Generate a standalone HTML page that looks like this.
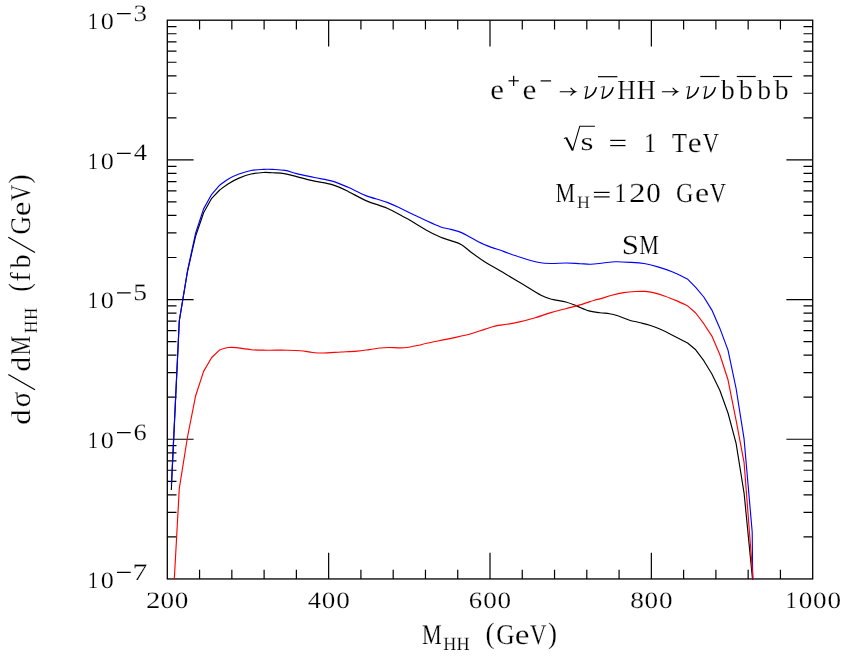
<!DOCTYPE html>
<html><head><meta charset="utf-8"><title>chart</title>
<style>html,body{margin:0;padding:0;background:#fff;font-family:"Liberation Serif",serif}body{width:845px;height:658px;position:relative;overflow:hidden}</style></head>
<body>
<svg width="845" height="658" viewBox="0 0 845 658" style="position:absolute;left:0;top:0;will-change:transform">
<rect width="845" height="658" fill="#fff"/>
<clipPath id="c"><rect x="167.3" y="20.2" width="645.4000000000001" height="559.4"/></clipPath>
<rect x="167.3" y="20.2" width="645.4000000000001" height="558.75" fill="none" stroke="#000" stroke-width="1.3"/>
<path d="M199.57 20.20L199.57 29.40M199.57 578.95L199.57 569.75M231.84 20.20L231.84 29.40M231.84 578.95L231.84 569.75M264.11 20.20L264.11 29.40M264.11 578.95L264.11 569.75M296.38 20.20L296.38 29.40M296.38 578.95L296.38 569.75M328.65 20.20L328.65 46.50M328.65 578.95L328.65 552.65M360.92 20.20L360.92 29.40M360.92 578.95L360.92 569.75M393.19 20.20L393.19 29.40M393.19 578.95L393.19 569.75M425.46 20.20L425.46 29.40M425.46 578.95L425.46 569.75M457.73 20.20L457.73 29.40M457.73 578.95L457.73 569.75M490.00 20.20L490.00 46.50M490.00 578.95L490.00 552.65M522.27 20.20L522.27 29.40M522.27 578.95L522.27 569.75M554.54 20.20L554.54 29.40M554.54 578.95L554.54 569.75M586.81 20.20L586.81 29.40M586.81 578.95L586.81 569.75M619.08 20.20L619.08 29.40M619.08 578.95L619.08 569.75M651.35 20.20L651.35 46.50M651.35 578.95L651.35 552.65M683.62 20.20L683.62 29.40M683.62 578.95L683.62 569.75M715.89 20.20L715.89 29.40M715.89 578.95L715.89 569.75M748.16 20.20L748.16 29.40M748.16 578.95L748.16 569.75M780.43 20.20L780.43 29.40M780.43 578.95L780.43 569.75M167.30 117.84L176.50 117.84M812.70 117.84L803.50 117.84M167.30 93.24L176.50 93.24M812.70 93.24L803.50 93.24M167.30 75.79L176.50 75.79M812.70 75.79L803.50 75.79M167.30 62.25L176.50 62.25M812.70 62.25L803.50 62.25M167.30 51.19L176.50 51.19M812.70 51.19L803.50 51.19M167.30 41.84L176.50 41.84M812.70 41.84L803.50 41.84M167.30 33.74L176.50 33.74M812.70 33.74L803.50 33.74M167.30 26.59L176.50 26.59M812.70 26.59L803.50 26.59M167.30 159.89L193.60 159.89M812.70 159.89L786.40 159.89M167.30 257.52L176.50 257.52M812.70 257.52L803.50 257.52M167.30 232.93L176.50 232.93M812.70 232.93L803.50 232.93M167.30 215.47L176.50 215.47M812.70 215.47L803.50 215.47M167.30 201.94L176.50 201.94M812.70 201.94L803.50 201.94M167.30 190.88L176.50 190.88M812.70 190.88L803.50 190.88M167.30 181.53L176.50 181.53M812.70 181.53L803.50 181.53M167.30 173.42L176.50 173.42M812.70 173.42L803.50 173.42M167.30 166.28L176.50 166.28M812.70 166.28L803.50 166.28M167.30 299.57L193.60 299.57M812.70 299.57L786.40 299.57M167.30 397.21L176.50 397.21M812.70 397.21L803.50 397.21M167.30 372.61L176.50 372.61M812.70 372.61L803.50 372.61M167.30 355.16L176.50 355.16M812.70 355.16L803.50 355.16M167.30 341.63L176.50 341.63M812.70 341.63L803.50 341.63M167.30 330.56L176.50 330.56M812.70 330.56L803.50 330.56M167.30 321.21L176.50 321.21M812.70 321.21L803.50 321.21M167.30 313.11L176.50 313.11M812.70 313.11L803.50 313.11M167.30 305.97L176.50 305.97M812.70 305.97L803.50 305.97M167.30 439.26L193.60 439.26M812.70 439.26L786.40 439.26M167.30 536.90L176.50 536.90M812.70 536.90L803.50 536.90M167.30 512.30L176.50 512.30M812.70 512.30L803.50 512.30M167.30 494.85L176.50 494.85M812.70 494.85L803.50 494.85M167.30 481.31L176.50 481.31M812.70 481.31L803.50 481.31M167.30 470.25L176.50 470.25M812.70 470.25L803.50 470.25M167.30 460.90L176.50 460.90M812.70 460.90L803.50 460.90M167.30 452.80L176.50 452.80M812.70 452.80L803.50 452.80M167.30 445.65L176.50 445.65M812.70 445.65L803.50 445.65M117.00 13.60L130.70 13.60M117.00 153.29L130.70 153.29M117.00 292.97L130.70 292.97M117.00 432.66L130.70 432.66M117.00 572.35L130.70 572.35" fill="none" stroke="#000" stroke-width="1.2"/>
<g fill="none" stroke-width="1.15" stroke-linejoin="round" clip-path="url(#c)">
<path d="M171.3 490.0L179.3 321.0L187.5 271.5L195.5 236.5L203.6 212.8L211.7 198.3L219.7 190.0C221.2 188.9 225.2 185.7 228.4 183.7C231.6 181.7 235.2 179.7 239.0 178.1C242.8 176.5 247.0 174.9 251.1 174.0C255.2 173.1 259.8 172.7 263.3 172.5C266.9 172.3 268.9 172.6 272.4 172.8C275.9 173.0 280.2 173.0 284.2 173.6C288.2 174.2 291.6 175.3 296.6 176.6C301.6 177.8 308.5 179.8 314.4 181.1C320.3 182.4 326.5 182.9 332.1 184.6C337.7 186.3 342.5 188.7 348.1 191.4C353.7 194.1 359.4 197.8 365.9 200.6C372.4 203.4 380.7 205.4 387.2 208.2C393.7 211.0 401.1 215.5 404.9 217.5C408.7 219.5 406.5 218.1 410.0 220.2C413.5 222.3 421.0 227.1 426.0 229.9C431.0 232.7 436.1 235.2 440.2 237.0C444.3 238.8 447.2 239.3 450.8 240.6C454.4 241.9 457.9 242.6 461.5 244.7C465.1 246.8 468.0 250.0 472.1 253.0C476.2 256.0 481.8 260.0 486.2 262.8C490.6 265.6 495.6 268.1 498.8 270.0C502.0 271.9 501.4 271.6 505.5 274.0C509.6 276.4 517.4 281.1 523.3 284.6C529.2 288.2 536.3 292.9 541.0 295.3C545.7 297.7 547.6 298.1 551.7 299.2C555.9 300.3 561.8 300.9 565.9 302.0C570.0 303.1 572.7 304.4 576.5 305.9C580.3 307.4 585.0 309.8 588.9 310.9C592.8 312.0 596.6 312.2 600.0 312.7C603.4 313.2 606.5 313.2 609.5 313.7C612.5 314.2 614.4 314.7 617.8 315.8C621.1 316.9 626.0 319.1 629.6 320.2C633.2 321.3 635.8 321.6 639.1 322.5C642.5 323.4 646.4 324.2 649.7 325.3C653.1 326.4 655.7 327.3 659.2 328.8C662.8 330.3 666.3 332.0 671.0 334.4C675.7 336.8 684.9 341.6 687.6 343.0L695.7 349.8L703.8 360.7L711.9 374.0L719.9 390.5L728.0 413.0L736.1 443.3L744.1 493.3L752.7 581.0" stroke="#000"/>
<path d="M171.4 484.6L179.3 320.5L187.5 270.8L195.5 233.5L203.6 208.9L211.7 194.3L219.7 185.2C221.2 184.1 225.2 180.8 228.4 178.9C231.6 177.0 235.2 175.4 239.0 174.0C242.8 172.6 247.0 171.3 251.1 170.5C255.2 169.7 259.8 169.6 263.3 169.4C266.9 169.2 268.8 169.2 272.4 169.4C276.0 169.6 281.1 169.7 285.1 170.4C289.1 171.1 291.7 172.4 296.6 173.6C301.5 174.8 308.5 176.2 314.4 177.5C320.3 178.8 326.5 179.5 332.1 181.1C337.7 182.7 342.5 184.9 348.1 187.3C353.7 189.7 359.4 193.1 365.9 195.6C372.4 198.1 380.7 199.9 387.2 202.4C393.7 204.9 401.1 208.6 404.9 210.4C408.7 212.2 406.5 211.4 410.0 213.1C413.5 214.8 421.0 218.2 426.0 220.5C431.0 222.8 436.1 225.2 440.2 226.7C444.3 228.2 447.2 228.4 450.8 229.4C454.4 230.4 457.9 231.1 461.5 232.6C465.1 234.1 468.0 236.2 472.1 238.3C476.2 240.4 481.0 243.2 486.3 245.4C491.6 247.6 498.2 249.5 504.1 251.6C510.0 253.7 516.2 256.0 521.8 257.8C527.4 259.6 532.9 261.2 537.8 262.2C542.7 263.1 546.3 263.4 551.0 263.5C555.7 263.6 561.0 263.0 565.9 263.0C570.8 263.0 576.0 263.5 580.1 263.7C584.2 263.9 586.9 264.3 590.7 264.2C594.5 264.1 599.0 263.4 603.1 263.0C607.2 262.6 610.9 261.9 615.6 261.8C620.3 261.7 626.3 262.1 631.3 262.4C636.3 262.7 641.1 263.1 645.5 263.8C649.9 264.6 653.5 265.6 657.9 266.9C662.3 268.2 667.1 269.8 672.1 271.8C677.1 273.8 685.1 277.9 687.6 279.1L695.7 287.3L703.8 297.0L711.9 310.1L719.9 328.4L728.0 350.1L736.1 388.5L744.1 439.2L752.2 532.0L752.7 581.0" stroke="#00f"/>
<path d="M174.2 581.0L179.3 488.4L187.5 437.0L195.5 396.3L203.6 371.4L211.7 357.5L219.7 349.9C221.2 349.5 225.7 347.9 228.4 347.5C231.1 347.1 232.2 347.2 236.0 347.6C239.8 348.0 246.0 349.3 251.1 349.7C256.1 350.1 260.5 350.1 266.3 350.2C272.1 350.3 280.4 350.1 286.0 350.2C291.6 350.3 295.8 350.3 300.2 350.7C304.6 351.1 308.8 352.1 312.6 352.5C316.5 352.9 318.6 353.1 323.3 353.0C328.0 352.9 335.4 352.3 341.0 352.0C346.6 351.7 352.3 351.5 357.0 351.1C361.7 350.7 365.5 350.1 369.4 349.6C373.2 349.1 376.9 348.4 380.1 348.0C383.4 347.6 385.6 347.5 388.9 347.5C392.1 347.5 396.3 347.9 399.6 347.9C402.9 347.8 405.3 347.7 408.7 347.2C412.1 346.7 417.0 345.6 420.0 345.0C423.0 344.4 421.1 344.5 426.6 343.3C432.2 342.1 445.9 339.5 453.3 337.9C460.7 336.3 465.7 335.3 471.0 333.8C476.3 332.3 481.1 330.4 485.2 329.1C489.3 327.8 492.3 326.7 495.9 325.9C499.4 325.1 502.8 324.9 506.5 324.3C510.2 323.7 513.6 323.2 518.4 322.1C523.2 321.0 529.8 319.3 535.3 317.7C540.8 316.1 544.8 314.4 551.7 312.4C558.6 310.4 569.4 307.9 576.5 305.9C583.6 303.9 590.4 301.4 594.3 300.2C598.2 299.0 597.1 299.7 600.0 298.9C602.9 298.1 607.8 296.4 611.8 295.3C615.8 294.2 619.8 293.2 623.7 292.6C627.7 292.0 632.0 291.7 635.5 291.5C639.0 291.3 642.0 291.2 645.0 291.4C648.0 291.6 649.9 291.8 653.3 292.6C656.6 293.4 661.2 294.8 665.1 296.2C669.0 297.6 673.1 299.3 676.9 300.9C680.7 302.5 685.9 305.1 687.6 305.9L695.7 313.0L703.8 323.7L711.9 336.1L719.9 354.8L728.0 379.8L736.1 420.3L744.1 462.7L753.2 581.0" stroke="#f00"/>
</g>
<g font-family="'Liberation Serif', serif" fill="#000" stroke="#fff" stroke-width="0.2" text-rendering="geometricPrecision">
<text transform="translate(145.94,608.30) scale(1.221,1.000)" font-size="23.5">2</text>
<text transform="translate(160.52,608.30) scale(1.155,1.000)" font-size="23.5">0</text>
<text transform="translate(174.87,608.30) scale(1.155,1.000)" font-size="23.5">0</text>
<text transform="translate(307.63,608.30) scale(1.126,1.000)" font-size="23.5">4</text>
<text transform="translate(321.87,608.30) scale(1.155,1.000)" font-size="23.5">0</text>
<text transform="translate(336.22,608.30) scale(1.155,1.000)" font-size="23.5">0</text>
<text transform="translate(468.74,608.30) scale(1.145,1.000)" font-size="23.5">6</text>
<text transform="translate(483.22,608.30) scale(1.155,1.000)" font-size="23.5">0</text>
<text transform="translate(497.57,608.30) scale(1.155,1.000)" font-size="23.5">0</text>
<text transform="translate(630.16,608.30) scale(1.165,1.000)" font-size="23.5">8</text>
<text transform="translate(644.57,608.30) scale(1.155,1.000)" font-size="23.5">0</text>
<text transform="translate(658.92,608.30) scale(1.155,1.000)" font-size="23.5">0</text>
<text transform="translate(785.78,608.30) scale(0.919,1.000)" font-size="23.5">1</text>
<text transform="translate(798.74,608.30) scale(1.155,1.000)" font-size="23.5">0</text>
<text transform="translate(813.09,608.30) scale(1.155,1.000)" font-size="23.5">0</text>
<text transform="translate(827.44,608.30) scale(1.155,1.000)" font-size="23.5">0</text>
<text transform="translate(87.63,29.10) scale(0.882,1.000)" font-size="23.5">1</text>
<text transform="translate(100.75,29.10) scale(1.114,1.000)" font-size="23.5">0</text>
<text transform="translate(133.45,20.80) scale(1.154,1.000)" font-size="23.5">3</text>
<text transform="translate(87.63,168.79) scale(0.882,1.000)" font-size="23.5">1</text>
<text transform="translate(100.75,168.79) scale(1.114,1.000)" font-size="23.5">0</text>
<text transform="translate(133.68,160.49) scale(1.126,1.000)" font-size="23.5">4</text>
<text transform="translate(87.63,308.47) scale(0.882,1.000)" font-size="23.5">1</text>
<text transform="translate(100.75,308.47) scale(1.114,1.000)" font-size="23.5">0</text>
<text transform="translate(133.20,300.17) scale(1.173,1.000)" font-size="23.5">5</text>
<text transform="translate(87.63,448.16) scale(0.882,1.000)" font-size="23.5">1</text>
<text transform="translate(100.75,448.16) scale(1.114,1.000)" font-size="23.5">0</text>
<text transform="translate(133.56,439.86) scale(1.125,1.000)" font-size="23.5">6</text>
<text transform="translate(87.63,587.85) scale(0.882,1.000)" font-size="23.5">1</text>
<text transform="translate(100.75,587.85) scale(1.114,1.000)" font-size="23.5">0</text>
<text transform="translate(132.40,579.55) scale(1.260,1.000)" font-size="23.5">7</text>
<text transform="translate(490.29,99.00) scale(1.125,1.040)" font-size="27.5">e</text>
<text transform="translate(522.43,99.00) scale(1.140,1.040)" font-size="27.5">e</text>
<text transform="translate(617.31,99.00) scale(0.931,1.000)" font-size="27.5">H</text>
<text transform="translate(636.79,99.00) scale(0.958,1.000)" font-size="27.5">H</text>
<text transform="translate(720.95,99.00) scale(1.000,1.000)" font-size="27.5">b</text>
<text transform="translate(738.65,99.00) scale(1.023,1.000)" font-size="27.5">b</text>
<text transform="translate(757.35,99.00) scale(1.008,1.000)" font-size="27.5">b</text>
<text transform="translate(774.85,99.00) scale(1.008,1.000)" font-size="27.5">b</text>
<text transform="translate(580.48,150.20) scale(1.212,0.920)" font-size="27.5">s</text>
<text transform="translate(643.93,151.70) scale(0.878,1.000)" font-size="27.5">1</text>
<text transform="translate(672.11,151.70) scale(0.890,1.000)" font-size="27.5">T</text>
<text transform="translate(687.83,151.70) scale(1.140,1.040)" font-size="27.5">e</text>
<text transform="translate(702.80,151.70) scale(0.816,1.000)" font-size="27.5">V</text>
<text transform="translate(555.52,202.30) scale(0.801,1.000)" font-size="27.5">M</text>
<text transform="translate(576.93,208.40) scale(1.024,1.000)" font-size="17.5">H</text>
<text transform="translate(614.55,202.30) scale(0.868,1.000)" font-size="27.5">1</text>
<text transform="translate(629.09,202.30) scale(1.206,1.000)" font-size="27.5">2</text>
<text transform="translate(646.34,202.30) scale(1.055,1.000)" font-size="27.5">0</text>
<text transform="translate(676.05,202.30) scale(0.884,1.000)" font-size="27.5">G</text>
<text transform="translate(694.90,202.30) scale(1.159,1.020)" font-size="27.5">e</text>
<text transform="translate(709.80,202.30) scale(0.816,1.000)" font-size="27.5">V</text>
<text transform="translate(621.78,253.70) scale(1.123,1.000)" font-size="27.5">S</text>
<text transform="translate(639.22,253.70) scale(0.801,1.000)" font-size="27.5">M</text>
<text transform="translate(422.11,643.75) scale(0.774,1.000)" font-size="28.6">M</text>
<text transform="translate(443.23,649.80) scale(0.972,1.000)" font-size="18.6">H</text>
<text transform="translate(456.43,649.80) scale(0.980,1.000)" font-size="18.6">H</text>
<text transform="translate(485.45,642.55) scale(0.953,1.040)" font-size="28.6">(</text>
<text transform="translate(496.20,643.75) scale(0.893,1.000)" font-size="28.6">G</text>
<text transform="translate(514.65,643.75) scale(1.162,1.000)" font-size="28.6">e</text>
<text transform="translate(530.09,643.75) scale(0.800,1.000)" font-size="28.6">V</text>
<text transform="translate(548.08,642.55) scale(0.939,1.040)" font-size="28.6">)</text>
<text transform="translate(30.00,424.65) rotate(-90) scale(1.068,0.950)" font-size="28.6">d</text>
<text transform="translate(30.00,407.14) rotate(-90) scale(1.000,1.030)" font-size="28.6">σ</text>
<text transform="translate(30.00,371.41) rotate(-90) scale(1.022,0.950)" font-size="28.6">d</text>
<text transform="translate(30.00,355.18) rotate(-90) scale(0.762,1.000)" font-size="28.6">M</text>
<text transform="translate(36.60,333.26) rotate(-90) scale(0.955,1.000)" font-size="18.6">H</text>
<text transform="translate(36.60,319.94) rotate(-90) scale(0.907,1.000)" font-size="18.6">H</text>
<text transform="translate(29.00,291.45) rotate(-90) scale(0.871,1.040)" font-size="28.6">(</text>
<text transform="translate(30.00,281.73) rotate(-90) scale(0.995,1.000)" font-size="28.6">f</text>
<text transform="translate(30.00,268.55) rotate(-90) scale(0.984,1.000)" font-size="28.6">b</text>
<text transform="translate(30.00,234.59) rotate(-90) scale(0.888,1.000)" font-size="28.6">G</text>
<text transform="translate(30.00,216.25) rotate(-90) scale(1.162,1.000)" font-size="28.6">e</text>
<text transform="translate(30.00,200.85) rotate(-90) scale(0.772,1.000)" font-size="28.6">V</text>
<text transform="translate(29.00,183.43) rotate(-90) scale(0.953,1.040)" font-size="28.6">)</text>
</g>
<path d="M508.50 80.80L518.80 80.80" stroke="#000" stroke-width="1.2" fill="none"/>
<path d="M513.65 75.70L513.65 85.90" stroke="#000" stroke-width="1.2" fill="none"/>
<path d="M540.60 80.90L551.10 80.90" stroke="#000" stroke-width="1.2" fill="none"/>
<path d="M560.20 91.70L575.50 91.70M570.90 88.20Q572.90 90.90 575.50 91.70Q572.90 92.50 570.90 95.20" stroke="#000" stroke-width="1.15" fill="none" stroke-linecap="round"/>
<path d="M662.30 91.70L677.60 91.70M673.00 88.20Q675.00 90.90 677.60 91.70Q675.00 92.50 673.00 95.20" stroke="#000" stroke-width="1.15" fill="none" stroke-linecap="round"/>
<path d="M598.00 76.70L617.40 76.70" stroke="#000" stroke-width="1.2" fill="none"/>
<path d="M700.30 76.50L719.50 76.50" stroke="#000" stroke-width="1.2" fill="none"/>
<path d="M736.80 76.50L755.70 76.50" stroke="#000" stroke-width="1.2" fill="none"/>
<path d="M773.00 76.50L792.20 76.50" stroke="#000" stroke-width="1.2" fill="none"/>
<path aria-label="ν" d="M0.1 -12.1L3.2 -12.95L4.4 -12.95L2.45 -1.6Q9.3 -3.4 12.0 -12.0L13.4 -11.8Q11.2 -1.5 1.0 0.1L0.9 -0.3L2.95 -12.1L0.25 -11.6Z" transform="translate(583.75,99.10)" fill="#000"/>
<path aria-label="ν" d="M0.1 -12.1L3.2 -12.95L4.4 -12.95L2.45 -1.6Q9.3 -3.4 12.0 -12.0L13.4 -11.8Q11.2 -1.5 1.0 0.1L0.9 -0.3L2.95 -12.1L0.25 -11.6Z" transform="translate(600.50,99.10)" fill="#000"/>
<path aria-label="ν" d="M0.1 -12.1L3.2 -12.95L4.4 -12.95L2.45 -1.6Q9.3 -3.4 12.0 -12.0L13.4 -11.8Q11.2 -1.5 1.0 0.1L0.9 -0.3L2.95 -12.1L0.25 -11.6Z" transform="translate(685.85,99.10)" fill="#000"/>
<path aria-label="ν" d="M0.1 -12.1L3.2 -12.95L4.4 -12.95L2.45 -1.6Q9.3 -3.4 12.0 -12.0L13.4 -11.8Q11.2 -1.5 1.0 0.1L0.9 -0.3L2.95 -12.1L0.25 -11.6Z" transform="translate(702.70,99.10)" fill="#000"/>
<path d="M563.9 138.6L566.3 137.6" stroke="#000" stroke-width="1.0" fill="none"/>
<path d="M566.2 137.6L572.6 150.2" stroke="#000" stroke-width="2.0" fill="none"/>
<path d="M572.6 150.6L579.8 126.2L594.9 126.2" stroke="#000" stroke-width="1.1" fill="none" stroke-linejoin="miter"/>
<path d="M610.20 140.40L625.50 140.40" stroke="#000" stroke-width="1.2" fill="none"/>
<path d="M610.20 145.60L625.50 145.60" stroke="#000" stroke-width="1.2" fill="none"/>
<path d="M593.90 192.40L609.60 192.40" stroke="#000" stroke-width="1.2" fill="none"/>
<path d="M593.90 196.90L609.60 196.90" stroke="#000" stroke-width="1.2" fill="none"/>
<path d="M35.0 389.7L8.3 374.5" stroke="#000" stroke-width="1.25" fill="none"/>
<path d="M35.0 252.5L8.3 237.3" stroke="#000" stroke-width="1.25" fill="none"/>
</svg>
</body></html>
